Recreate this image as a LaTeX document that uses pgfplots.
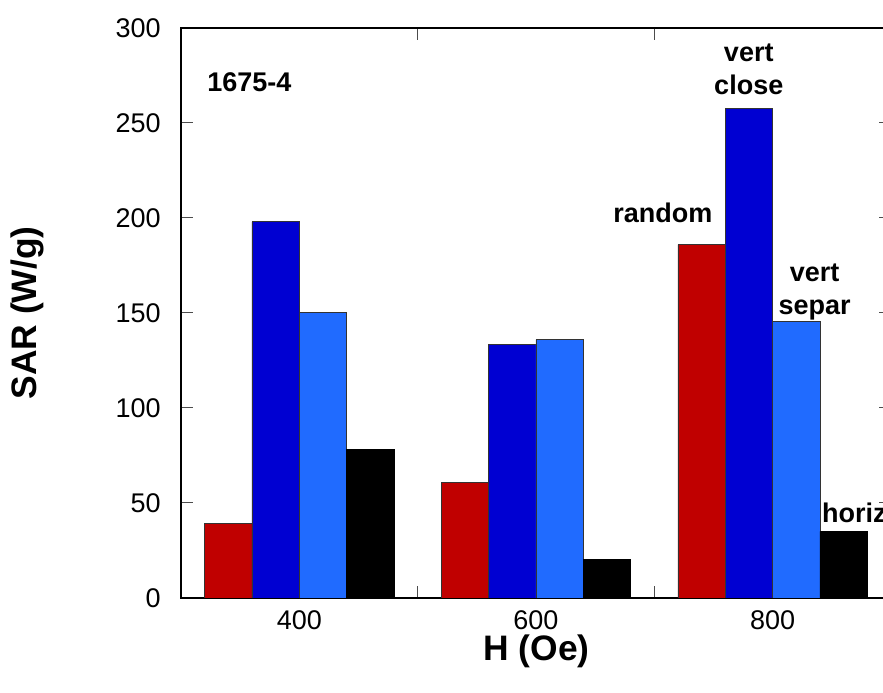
\documentclass[border=0pt]{standalone}
\usepackage{pgfplots}
\pgfplotsset{compat=1.18}
\usepackage{fontspec}
\setmainfont{Liberation Sans}
\definecolor{cred}{RGB}{192,0,0}
\definecolor{cblue}{RGB}{0,0,210}
\definecolor{clblue}{RGB}{32,107,255}
\begin{document}
\begin{tikzpicture}
\begin{axis}[
  scale only axis,
  width=355pt, height=285pt,
  xmin=-0.5, xmax=2.5, ymin=0, ymax=300,
  ytick={0,50,...,300},
  xtick={0.5,1.5}, xticklabels={},
  extra x ticks={0,1,2},
  extra x tick labels={400,600,800},
  extra x tick style={major tick length=0pt},
  tick align=inside,
  major tick length=6pt,
  tick style={black!70, line width=0.5pt},
  axis line style={black, line width=0.7pt},
  /pgf/number format/assume math mode=true,
  tick label style={font=\fontsize{13.5}{15}\selectfont},
  yticklabel style={anchor=east, inner sep=0pt, xshift=-10pt},
  xticklabel style={anchor=north, inner sep=0pt, yshift=-6pt},
  xlabel={H (Oe)},
  ylabel={SAR (W/g)},
  xlabel style={at={(rel axis cs:0.501,0)}, anchor=center, yshift=-26.5pt, font=\fontsize{17.7}{20}\selectfont\bfseries},
  ylabel style={at={(rel axis cs:0,0.5)}, anchor=center, yshift=77pt, font=\fontsize{17.7}{20}\selectfont\bfseries},
]
\addplot[ybar, bar width=0.2, bar shift=-0.3, fill=cred, draw=black!80, line width=0.4pt] coordinates {(0,39) (1,61) (2,186)};
\addplot[ybar, bar width=0.2, bar shift=-0.1, fill=cblue, draw=black!80, line width=0.4pt] coordinates {(0,198) (1,133.5) (2,257.5)};
\addplot[ybar, bar width=0.2, bar shift=0.1, fill=clblue, draw=black!80, line width=0.4pt] coordinates {(0,150.5) (1,136) (2,145.5)};
\addplot[ybar, bar width=0.2, bar shift=0.3, fill=black, draw=black, line width=0.4pt] coordinates {(0,78) (1,20.5) (2,35)};
\node[font=\fontsize{13.5}{15}\selectfont\bfseries] at (axis cs:-0.211,271.6) {1675-4};
\node[font=\fontsize{13.5}{16.5}\selectfont\bfseries, align=center] at (axis cs:1.899,278.5) {vert\\close};
\node[font=\fontsize{13.5}{15}\selectfont\bfseries] at (axis cs:1.536,202.6) {random};
\node[font=\fontsize{13.5}{16.5}\selectfont\bfseries, align=center] at (axis cs:2.177,161) {vert\\separ};
\node[font=\fontsize{13.5}{15}\selectfont\bfseries, anchor=west, inner sep=0pt] at (axis cs:2.207,44.7) {horiz};
\coordinate (SW) at (rel axis cs:0,0);
\coordinate (NE) at (rel axis cs:1,1);
\end{axis}
\pgfresetboundingbox
\path ([xshift=-90.5pt,yshift=-47.5pt]SW) rectangle ([xshift=-4pt,yshift=14pt]NE);
\end{tikzpicture}
\end{document}
